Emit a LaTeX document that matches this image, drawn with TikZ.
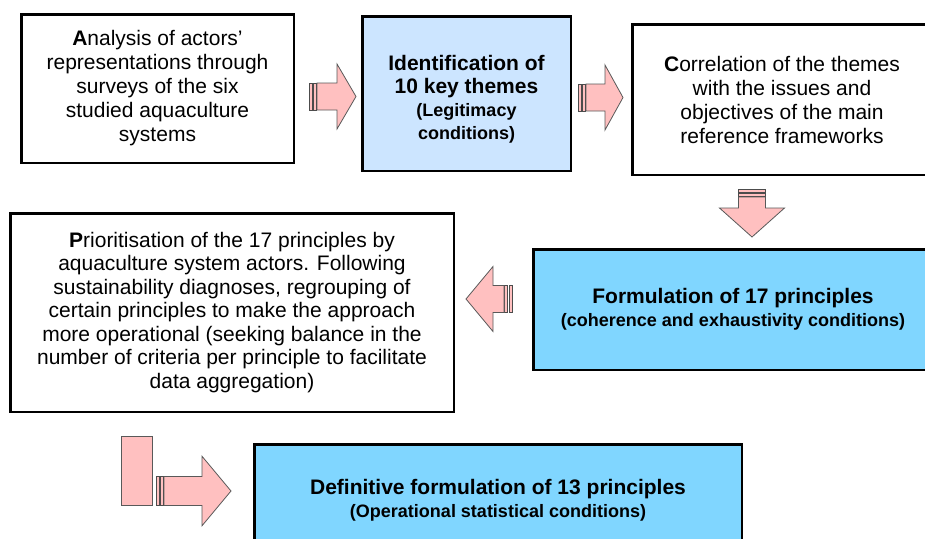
\documentclass[tikz,border=0pt]{standalone}
\usepackage{fontspec}
\setmainfont{Liberation Sans}
\definecolor{paleblue}{RGB}{204,229,255}
\definecolor{skyblue}{RGB}{128,214,255}
\definecolor{blush}{RGB}{255,192,192}
% striped block arrow: [scope options]{tail}{shaft}{head}
\newcommand{\stripearrow}[4][]{%
	\begin{scope}[shift={(#2)},#1]
		\foreach \s in {0,4.5} \draw[stripe] (\s,-13.5) rectangle ++(3,27);
		\draw[blockarrow] (8,-13.5)--++(#3,0)--++(0,-19)--++(#4,32.5)--++(-#4,32.5)--++(0,-19)--(8,13.5)--cycle;
	\end{scope}}
\begin{document}
\begin{tikzpicture}[x=1pt,y=-1pt, line join=miter,
	box/.style={draw, line width=2.5pt, align=center, inner sep=0pt, font=\fontsize{21}{24}\selectfont},
	big/.style={font=\fontsize{21}{23}\selectfont\bfseries},
	blockarrow/.style={fill=blush, draw=black!65, line width=.8pt},
	stripe/.style={fill=blush, draw=black!70, line width=.8pt}]
	\useasboundingbox (0,0) rectangle (925,538);
	\clip (0,0) rectangle (925,538);
	\node[box, minimum width=272.5, minimum height=148.5] (analysis) at (157.5,88.5)
		{\textbf{A}nalysis of actors'\\representations through\\surveys of the six\\studied aquaculture\\systems};
	\node[box, big, fill=paleblue, minimum width=208.5, minimum height=154.5] (themes) at (466.5,93.5)
		{\rule{0pt}{26pt}Identification of\\10 key themes\\{\fontsize{18}{20}\selectfont(Legitimacy}\\{\fontsize{18}{20}\selectfont conditions)}};
	\node[box, minimum width=299.5, minimum height=150.5] (correlation) at (782,99.5)
		{\textbf{C}orrelation of the themes\\with the issues and\\objectives of the main\\reference frameworks};
	\node[box, big, fill=skyblue, minimum width=399.5, minimum height=120.5] (formulation) at (733,309.5)
		{Formulation of 17 principles\\{\fontsize{18}{20}\selectfont(coherence and exhaustivity conditions)}};
	\node[box, font=\fontsize{21}{23.5}\selectfont, minimum width=443.5, minimum height=198.5] (prioritisation) at (232,312.5)
		{\textbf{P}rioritisation of the 17 principles by\\aquaculture system actors. Following\\sustainability diagnoses, regrouping of\\certain principles to make the approach\\more operational (seeking balance in the\\number of criteria per principle to facilitate\\data aggregation)};
	\node[box, big, fill=skyblue, minimum width=487.5, minimum height=111.5] (definitive) at (498,500)
		{Definitive formulation of 13 principles\\{\fontsize{18}{20}\selectfont(Operational statistical conditions)}};
	\stripearrow{309,96.5}{20}{19}
	\stripearrow{578,97.5}{19}{18}
	\stripearrow[rotate=-90]{752,189}{11}{29}
	\stripearrow[rotate=180]{512,299}{11}{27}
	\draw[blockarrow] (121,436) rectangle (152,505);
	\stripearrow[yscale=1.07]{156,491}{38}{29}
\end{tikzpicture}
\end{document}
